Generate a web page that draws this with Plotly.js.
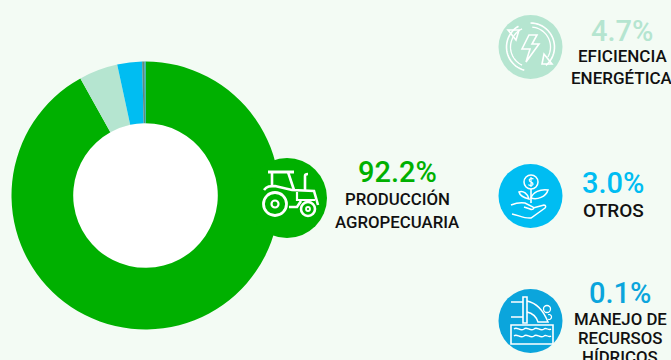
<!DOCTYPE html>
<html><head><meta charset="utf-8">
<script src="https://cdn.plot.ly/plotly-3.0.1.min.js"></script>
<style>html,body{margin:0;padding:0;background:#f3fbf4;overflow:hidden}</style>
</head><body><div id="chart" style="width:671px;height:360px"></div>
<script>
const categories = ['Producción agropecuaria','Eficiencia energética','Otros','Sin etiqueta','Manejo de recursos hídricos'];
const seriesValues = [92.2,4.7,3.0,0.3,0.1];
const sliceColors = ['#00b000','#b5e5d0','#00bdf2','#5f8a7a','#0ba5dc'];
const percentLabels = ['92.2%','4.7%','3.0%','0.1%'];
const nameLabels = [['PRODUCCIÓN','AGROPECUARIA'],['EFICIENCIA','ENERGÉTICA'],['OTROS'],['MANEJO DE','RECURSOS','HÍDRICOS']];
const percentColors = ['#00b000','#b5e5d0','#00bdf2','#0ba5dc'];
const W=671,H=360;
const X=x=>x/W, Y=y=>1-y/H;
const pathOf=s=>s.replace(/(-?[\d.]+),(-?[\d.]+)/g,(m,a,b)=>X(+a).toFixed(5)+','+Y(+b).toFixed(5));
const arc=(cx,cy,r,a0,a1)=>{let p=[];const n=24;for(let i=0;i<=n;i++){const a=(a0+(a1-a0)*i/n)*Math.PI/180;p.push((i?'L':'M')+(cx+r*Math.sin(a)).toFixed(2)+','+(cy-r*Math.cos(a)).toFixed(2));}return p.join(' ');};
const shapes=[];
const disc=(cx,cy,r,fill,layer)=>shapes.push({type:'circle',xref:'paper',yref:'paper',layer:layer||'above',x0:X(cx-r),x1:X(cx+r),y0:Y(cy+r),y1:Y(cy-r),fillcolor:fill,line:{width:0}});
const ring=(cx,cy,r,w)=>shapes.push({type:'circle',xref:'paper',yref:'paper',x0:X(cx-r),x1:X(cx+r),y0:Y(cy+r),y1:Y(cy-r),line:{color:'#fff',width:w}});
const stroke=(d,w)=>shapes.push({type:'path',xref:'paper',yref:'paper',path:pathOf(d),line:{color:'#fff',width:w}});
const cx=145.5,cy=195.5,R=134,holeR=72.3;
disc(cx,cy,holeR,'#ffffff','below');
// badges
disc(287,198,40,'#00b000');
disc(530.5,47,32,'#b5e5d0');
disc(530.5,196,32,'#00bdf2');
disc(530.5,321,32,'#0ba5dc');
// tractor
stroke('M268,172 L294,172',3);
stroke('M272,172 L272,186',2.6);
stroke('M288,172 L294,190',2.6);
stroke('M264,190 C267,186 270,186 275,186 L292,190 L314,191 L318,205',2.6);
stroke('M289,207 L297,207 L301,201',2.6);
stroke('M305,190 L305,176 C305,174 307,174 308,174',2.6);
stroke('M297,192 L297,200 L315,200',2.2);
ring(275,204,11.5,2.8); ring(275,204,3.5,2.2);
ring(308,209,7,2.6); ring(308,209,2,1.8);
// energy
stroke(arc(530.5,47,24,-30,-165),1.6);
stroke(arc(530.5,47,24,0,140),1.6);
stroke(arc(530.5,47,20,5,120),1.3);
stroke(arc(530.5,47,20,-25,-155),1.3);
stroke('M508,30 L519,30 L516,40 Z',1.6);
stroke('M552,64 L542,64 L544,54 Z',1.6);
stroke('M529,35 L537,35 L532,44 L539,44 L526,62 L530,49 L522,49 Z',1.6);
// plant
ring(531,182,7,1.5);
stroke('M533.5,179 C531,177.5 528.5,179 529.5,181 C530.5,182.5 533.5,182 533,184.5 C532,186 529,185.5 528.5,184.5 M531,177 L531,187',1.2);
stroke('M531,189 L531,203',1.6);
stroke('M531,198 C533,192 540,189 548,190 C546,197 537,200 531,198 Z',1.5);
stroke('M529,199 C525,198 520,196 519,192 C523,190 528,194 529,199 Z',1.5);
stroke('M511,205 C516,203 520,202 525,203 L533,207 C535,209 532,210 530,209 L524,207 M533,208 L544,205 C546,205 546,207 545,208 L531,218 C525,219 518,215 512,214',1.5);
// water
stroke('M511,302 L523,302 M511,317 L523,317',1.6);
stroke('M523,297 L527,297 L527,323 L523,323 Z',1.6);
stroke('M527,301 C537,303 544,312 548,322 L538,322 C536,316 532,313 527,312',1.5);
ring(547,309,3.5,1.3);
stroke(arc(549,317,2.5,-20,200),1.2);
stroke('M511,325 L553,325 L553,344 L511,344 Z',1.6);
stroke('M514,329 C517,326 520,332 524,329 C527,326 530,332 534,329 C537,326 540,332 544,329 C546,327 549,331 551,329',1.3);
stroke('M514,336 C517,333 520,339 524,336 C527,333 530,339 534,336 C537,333 540,339 544,336 C546,334 549,338 551,336',1.3);
// text
const anns=[];
const txt=(x,y,t,size,color,weight)=>anns.push({xref:'paper',yref:'paper',x:X(x),y:Y(y),text:t,showarrow:false,xanchor:'center',yanchor:'middle',font:{family:'Roboto',size:size,color:color,weight:weight}});
const pct=[[397,172],[622,31],[613,183],[620,293]];
const nm=[[397,[199,222]],[622,[56,78]],[613,[210]],[620,[319,338,357]]];
const nameSize=[16.8,17,19,16.8];
percentLabels.forEach((t,i)=>{
  txt(pct[i][0],pct[i][1],t,29,percentColors[i],500);
  nameLabels[i].forEach((n,j)=>txt(nm[i][0],nm[i][1][j],n,nameSize[i],'#111',500));
});
Plotly.newPlot('chart',[{type:'pie',labels:categories,values:seriesValues,sort:false,direction:'clockwise',rotation:0,hole:holeR/R,
  marker:{colors:sliceColors,line:{width:0}},textinfo:'none',hoverinfo:'label+percent',showlegend:false,
  domain:{x:[X(cx-R),X(cx+R)],y:[Y(cy+R),Y(cy-R)]}}],
  {width:W,height:H,margin:{l:0,r:0,t:0,b:0},paper_bgcolor:'#f3fbf4',plot_bgcolor:'#f3fbf4',shapes:shapes,annotations:anns,showlegend:false},
  {displayModeBar:false,staticPlot:true});
</script></body></html>
